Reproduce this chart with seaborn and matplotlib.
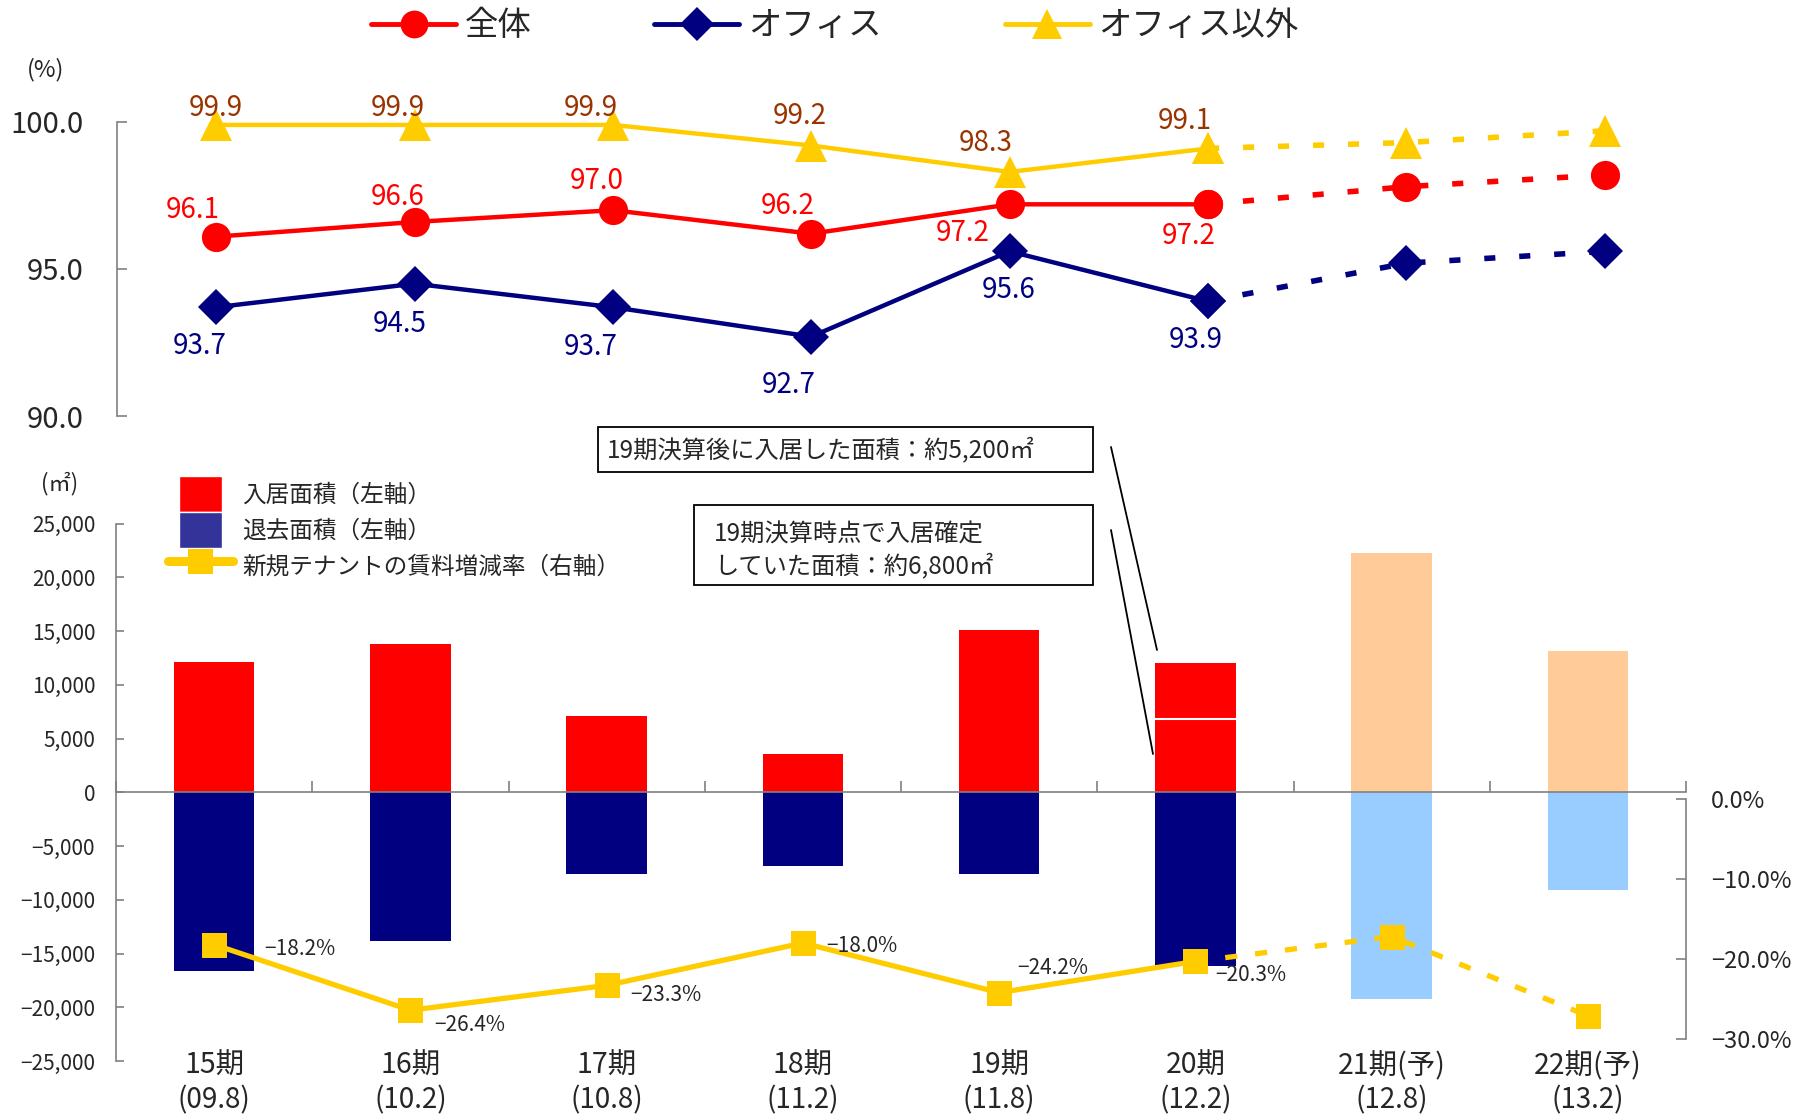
import numpy as np
import matplotlib
matplotlib.use("Agg")
import matplotlib.pyplot as plt
import matplotlib.transforms as mtransforms
from matplotlib.lines import Line2D
from matplotlib.patches import Patch, Rectangle
from matplotlib.legend_handler import HandlerPatch
from matplotlib.ticker import FuncFormatter
import seaborn as sns

# ---- data -------------------------------------------------------------
periods = ["15期", "16期", "17期", "18期", "19期", "20期", "21期(予)", "22期(予)"]
period_dates = ["(09.8)", "(10.2)", "(10.8)", "(11.2)", "(11.8)", "(12.2)", "(12.8)", "(13.2)"]

# occupancy rate (%)
occ_total = [96.1, 96.6, 97.0, 96.2, 97.2, 97.2, 97.8, 98.2]
occ_office = [93.7, 94.5, 93.7, 92.7, 95.6, 93.9, 95.2, 95.6]
occ_other = [99.9, 99.9, 99.9, 99.2, 98.3, 99.1, 99.3, 99.7]

# leased / vacated floor area (m2)
move_in = [12100, 13800, 7100, 3600, 15100, 12000, 22300, 13100]
move_out = [-16600, -13800, -7600, -6900, -7600, -16200, -19200, -9100]
move_in_20_confirmed = 6800   # fixed at the 19th-period close
move_in_20_after = 5200       # signed after the 19th-period close

# rent change for new tenants (%)
rent_change = [-18.2, -26.4, -23.3, -18.0, -24.2, -20.3, -17.2, -27.1]

n_actual = 6  # 15期-20期 are results, 21期 and 22期 are forecasts

# ---- style --------------------------------------------------------------
sns.set_theme(style="white")
plt.rcParams["font.family"] = ["Noto Sans CJK JP", "DejaVu Sans"]
plt.rcParams["axes.unicode_minus"] = True

RED, NAVY, YELLOW, BROWN = "#FF0000", "#000080", "#FFCC00", "#993300"
PEACH, SKY, LEGEND_BLUE = "#FFCC99", "#99CCFF", "#333399"
GRAY = "#808080"

W, H, DPI = 1820, 1119, 100
fig = plt.figure(figsize=(W / DPI, H / DPI), dpi=DPI)
fig.patch.set_facecolor("white")


def fx(px):
    return px / W


def fy(py):
    return 1 - py / H


def rect(l, t, r, b):
    return [fx(l), fy(b), (r - l) / W, (b - t) / H]


xs = np.arange(len(periods))

# ---- occupancy panel ---------------------------------------------------------
ax_top = fig.add_axes(rect(117, 90, 1704, 430))
ax_top.patch.set_alpha(0)

total_offsets = [(-17, 19), (-12, 18), (-12, 21), (-17, 20), (-34, -21), (-14, -23)]
office_offsets = [(-12, -28), (-11, -29), (-16, -29), (-16, -35), (-1, -28), (-9, -28)]
other_offsets = [(0, 12), (-12, 12), (-16, 12), (-8, 21), (-17, 21), (-17, 20)]

occ_series = [
    (occ_office, NAVY, "D", 18, NAVY, office_offsets),
    (occ_total, RED, "o", 21, RED, total_offsets),
    (occ_other, YELLOW, "^", 23, BROWN, other_offsets),
]
for vals, color, mk, ms, lbl_color, offs in occ_series:
    sns.lineplot(x=xs[:n_actual], y=vals[:n_actual], color=color, lw=3.2,
                 marker=mk, ms=ms, mew=0, sort=False, legend=False, ax=ax_top)
    sns.lineplot(x=xs[n_actual - 1:], y=vals[n_actual - 1:], color=color, lw=4,
                 linestyle=(0, (2, 4.3)), marker=mk, ms=ms, mew=0,
                 sort=False, legend=False, ax=ax_top)
    for i in range(n_actual):
        ax_top.annotate(f"{vals[i]:.1f}", (xs[i], vals[i]), xytext=offs[i],
                        textcoords="offset points", ha="center", va="center",
                        color=lbl_color, fontsize=20)

ax_top.set_xlim(-0.5, 7.5)
ax_top.set_ylim(89.524, 101.088)
ax_top.set_xlabel("")
ax_top.set_ylabel("")
for s in ["top", "right", "bottom"]:
    ax_top.spines[s].set_visible(False)
ax_top.spines["left"].set_bounds(90, 100)
ax_top.spines["left"].set_color(GRAY)
ax_top.spines["left"].set_linewidth(1.2)
ax_top.set_xticks([])
ax_top.set_yticks([90, 95, 100])
ax_top.yaxis.set_major_formatter(FuncFormatter(lambda v, p: f"{v:.1f}"))
ax_top.tick_params(axis="y", direction="in", length=7, width=1.2, color=GRAY,
                   left=True, labelsize=21, pad=24)

# ---- floor-area panel ---------------------------------------------------------
ax = fig.add_axes(rect(116, 523.5, 1686, 1061))
ax.patch.set_alpha(0)
in_colors = [RED] * n_actual + [PEACH] * (len(periods) - n_actual)
out_colors = [NAVY] * n_actual + [SKY] * (len(periods) - n_actual)

sns.barplot(x=periods, y=move_in, hue=periods, palette=in_colors, saturation=1,
            width=0.41, linewidth=0, legend=False, ax=ax)
sns.barplot(x=periods, y=move_out, hue=periods, palette=out_colors, saturation=1,
            width=0.41, linewidth=0, legend=False, ax=ax)
# split of the 20期 move-in bar
ax.hlines(move_in_20_confirmed, 5 - 0.205, 5 + 0.205, color="white", lw=1.5, zorder=3)

ax.set_xlim(-0.5, 7.5)
ax.set_ylim(-25000, 25000)
ax.set_xlabel("")
ax.set_ylabel("")
for s in ["top", "right"]:
    ax.spines[s].set_visible(False)
ax.spines["bottom"].set_position(("data", 0))
for s in ["bottom", "left"]:
    ax.spines[s].set_color(GRAY)
    ax.spines[s].set_linewidth(1.2)
ax.set_xticks(np.arange(-0.5, 7.6, 1.0))
ax.set_xticklabels([])
ax.tick_params(axis="x", direction="in", length=8, width=1.2, color=GRAY, bottom=True)
ax.set_yticks(np.arange(-25000, 25001, 5000))
ax.yaxis.set_major_formatter(FuncFormatter(lambda v, p: f"{int(v):,}".replace("-", "\u2212")))
ax.tick_params(axis="y", direction="in", length=6, width=1.2, color=GRAY,
               left=True, labelsize=15, pad=15)

trans = mtransforms.blended_transform_factory(ax.transData, fig.transFigure)
for i, (p, d) in enumerate(zip(periods, period_dates)):
    ax.text(i, fy(1066), p, transform=trans, ha="center", va="center", fontsize=20.5)
    ax.text(i, fy(1100), d, transform=trans, ha="center", va="center", fontsize=20)

# rent change on the right axis
ax2 = ax.twinx()
sns.lineplot(x=xs[:n_actual], y=rent_change[:n_actual], color=YELLOW, lw=3.8,
             marker="s", ms=18, mew=0, sort=False, legend=False, ax=ax2)
sns.lineplot(x=xs[n_actual - 1:], y=rent_change[n_actual - 1:], color=YELLOW, lw=3.8,
             linestyle=(0, (2.3, 3.4)), marker="s", ms=18, mew=0,
             sort=False, legend=False, ax=ax2)
rent_offsets = [(36, -3), (17, -11), (17, -7), (17, -2), (13, 18), (14, -10)]
for i in range(n_actual):
    ax2.annotate(f"{rent_change[i]:.1f}%".replace("-", "\u2212"), (xs[i], rent_change[i]),
                 xytext=rent_offsets[i], textcoords="offset points",
                 ha="left", va="center", fontsize=15)
ax2.set_xlim(-0.5, 7.5)
ax2.set_ylim(-32.75, 34.44)
ax2.set_xlabel("")
ax2.set_ylabel("")
for s in ["top", "left", "bottom"]:
    ax2.spines[s].set_visible(False)
ax2.spines["right"].set_bounds(-30, 0)
ax2.spines["right"].set_color(GRAY)
ax2.spines["right"].set_linewidth(1.2)
ax2.set_yticks([0, -10, -20, -30])
ax2.yaxis.set_major_formatter(FuncFormatter(lambda v, p: f"{v:.1f}%".replace("-", "\u2212")))
ax2.tick_params(axis="y", direction="in", length=7, width=1.2, color=GRAY,
                right=True, labelsize=17, pad=18)

# ---- legends --------------------------------------------------------------
top_handles = [
    Line2D([], [], color=RED, lw=3.5, marker="o", ms=20, mew=0),
    Line2D([], [], color=NAVY, lw=3.5, marker="D", ms=17, mew=0),
    Line2D([], [], color=YELLOW, lw=3.5, marker="^", ms=22, mew=0),
]
fig.legend(top_handles, ["全体", "オフィス", "オフィス以外"], loc="center left",
           bbox_to_anchor=(fx(371), fy(26)), ncol=3, frameon=False, fontsize=24,
           handlelength=2.55, handletextpad=0.25, columnspacing=3.7,
           borderpad=0, borderaxespad=0)


def narrow_patch(legend, orig_handle, xdescent, ydescent, width, height, fontsize):
    w = width * 0.66
    return Rectangle((-xdescent + (width - w) / 2, -ydescent), w, height)


area_handles = [
    Patch(facecolor=RED),
    Patch(facecolor=LEGEND_BLUE),
    Line2D([], [], color=YELLOW, lw=6.5, marker="s", ms=18, mew=0),
]
fig.legend(area_handles, ["入居面積（左軸）", "退去面積（左軸）", "新規テナントの賃料増減率（右軸）"],
           loc="upper left", bbox_to_anchor=(fx(168), fy(476)), frameon=False,
           fontsize=17, handlelength=2.75, handleheight=1.97, labelspacing=0,
           handletextpad=0.38, borderpad=0, borderaxespad=0,
           handler_map={Patch: HandlerPatch(patch_func=narrow_patch)})

# ---- unit labels ----------------------------------------------------------
fig.text(fx(46), fy(70), "(%)", ha="center", va="center", fontsize=17)
fig.text(fx(60), fy(484), "(㎡)", ha="center", va="center", fontsize=16)

# ---- callouts for the 20期 move-in split -------------------------------------
fig.add_artist(Rectangle((fx(598), fy(472)), (1093 - 598) / W, (472 - 427) / H,
                         transform=fig.transFigure, facecolor="white",
                         edgecolor="black", lw=1.3))
fig.text(fx(607), fy(450), "19期決算後に入居した面積：約5,200㎡",
         ha="left", va="center", fontsize=17.5)
fig.add_artist(Rectangle((fx(694), fy(585)), (1093 - 694) / W, (585 - 505) / H,
                         transform=fig.transFigure, facecolor="white",
                         edgecolor="black", lw=1.3))
fig.text(fx(714), fy(535), "19期決算時点で入居確定", ha="left", va="center", fontsize=17.5)
fig.text(fx(714), fy(566), "していた面積：約6,800㎡", ha="left", va="center", fontsize=17.5)
fig.add_artist(Line2D([fx(1111), fx(1157)], [fy(447), fy(650)],
                      transform=fig.transFigure, color="black", lw=1.3))
fig.add_artist(Line2D([fx(1111), fx(1153)], [fy(530), fy(754)],
                      transform=fig.transFigure, color="black", lw=1.3))

fig.savefig("out.png", dpi=DPI, facecolor="white")
